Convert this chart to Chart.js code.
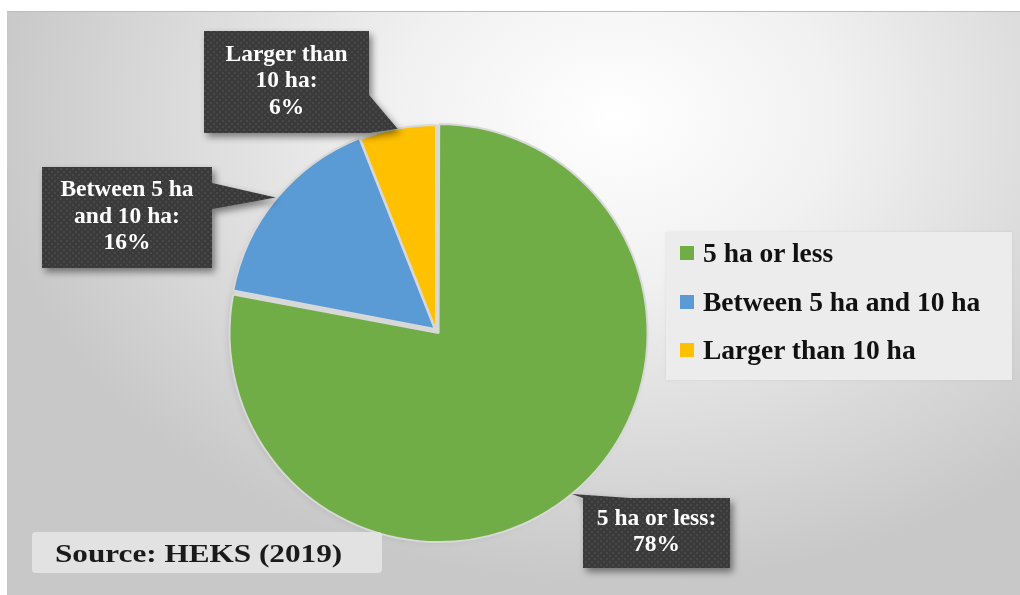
<!DOCTYPE html>
<html>
<head>
<meta charset="utf-8">
<script src="https://cdn.jsdelivr.net/npm/chart.js@4.4.1/dist/chart.umd.min.js"></script>
<style>
  html, body { margin: 0; padding: 0; background: #fff; }
  body { width: 1020px; height: 595px; position: relative; overflow: hidden;
         font-family: "Liberation Serif", "Times New Roman", serif; }
  #frame { position: absolute; left: 7px; top: 11px; width: 1013px; height: 584px;
           border-top: 1px solid #bdbdbd;
           background: radial-gradient(ellipse 62% 80% at 60% 18%, #ffffff 0%, #f1f1f1 35%, #dcdcdc 68%, #c8c8c8 100%); }
  #pie { position: absolute; left: 0; top: 0; }
  #legend { position: absolute; left: 666px; top: 232px; width: 346px; height: 148px;
            background: #ececec; box-shadow: 0 0 3px rgba(0,0,0,0.08); }
  .item { position: absolute; left: 14px; height: 40px; display: flex; align-items: center;
          font-weight: bold; font-size: 27.5px; color: #111; white-space: nowrap; }
  .swatch { width: 14px; height: 14px; margin-right: 9px; }
  #source { position: absolute; left: 32px; top: 532px; width: 350px; height: 41px;
            background: #e2e2e2; border-radius: 4px; }
  #source span { position: absolute; left: 23px; top: 0; line-height: 43px; font-size: 26px;
                 font-weight: bold; color: #1a1a1a; white-space: nowrap;
                 transform: scaleX(1.2); transform-origin: left center; }
</style>
</head>
<body>
<div id="frame"></div>
<canvas id="pie" width="1020" height="595"></canvas>
<div id="legend"></div>
<div id="source"><span>Source: HEKS (2019)</span></div>
<script>
const categories = ['5 ha or less', 'Between 5 ha and 10 ha', 'Larger than 10 ha'];
const shares = [78, 16, 6];
const sliceColors = ['#70ad47', '#5b9bd5', '#ffc000'];

// callout boxes: box rect, text width limit, pointer base points relative to the box
const callouts = [
  { x: 583, y: 498, w: 147, h: 70, wrap: 135, base: [[0, 0], [47, 0]] },
  { x: 42, y: 167, w: 170, h: 101, wrap: 150, base: [[170, 16], [170, 42]] },
  { x: 204, y: 31, w: 165, h: 102, wrap: 135, base: [[165, 64], [165, 102]] }
];

// legend rows
const legend = document.getElementById('legend');
const rowTops = [1, 50, 98];
categories.forEach((c, i) => {
  const row = document.createElement('div');
  row.className = 'item';
  row.style.top = rowTops[i] + 'px';
  row.innerHTML = '<div class="swatch" style="background:' + sliceColors[i] + '"></div>' + c;
  legend.appendChild(row);
});

// dotted texture for the dark callouts
const tile = document.createElement('canvas');
tile.width = 6; tile.height = 6;
const tctx = tile.getContext('2d');
tctx.fillStyle = '#3a3a3a';
tctx.fillRect(0, 0, 6, 6);
tctx.fillStyle = '#484848';
tctx.fillRect(0, 0, 2, 2);
tctx.fillRect(3, 3, 2, 2);

function wrapText(ctx, text, maxW) {
  const words = text.split(' ');
  const lines = [];
  let cur = '';
  words.forEach(w => {
    const test = cur ? cur + ' ' + w : w;
    if (cur && ctx.measureText(test).width > maxW) {
      lines.push(cur);
      cur = w;
    } else {
      cur = test;
    }
  });
  if (cur) lines.push(cur);
  return lines;
}

const calloutPlugin = {
  id: 'callouts',
  beforeDatasetsDraw(chart) {
    // soft shadow under the pie, also fills the gaps between slices
    const arc = chart.getDatasetMeta(0).data[2];
    const p = arc.getProps(['x', 'y', 'outerRadius'], true);
    const ctx = chart.ctx;
    ctx.save();
    ctx.shadowColor = 'rgba(0,0,0,0.2)';
    ctx.shadowBlur = 10;
    ctx.shadowOffsetY = 4;
    ctx.fillStyle = '#d8d8d8';
    ctx.beginPath();
    ctx.arc(p.x, p.y, p.outerRadius, 0, Math.PI * 2);
    ctx.fill();
    ctx.restore();
  },
  afterDatasetsDraw(chart) {
    const ctx = chart.ctx;
    const meta = chart.getDatasetMeta(0);
    const pattern = ctx.createPattern(tile, 'repeat');
    meta.data.forEach((arc, i) => {
      const p = arc.getProps(['x', 'y', 'startAngle', 'endAngle', 'outerRadius'], true);
      const mid = (p.startAngle + p.endAngle) / 2;
      const off = (arc.options.offset || 0) / 4;
      const r = p.outerRadius + off * 2;
      const tipX = p.x + Math.cos(mid) * r;
      const tipY = p.y + Math.sin(mid) * r;
      const b = callouts[i];

      ctx.save();
      ctx.shadowColor = 'rgba(0,0,0,0.45)';
      ctx.shadowBlur = 7;
      ctx.shadowOffsetX = 3;
      ctx.shadowOffsetY = 4;
      ctx.fillStyle = pattern;
      ctx.beginPath();
      ctx.rect(b.x, b.y, b.w, b.h);
      ctx.moveTo(b.x + b.base[0][0], b.y + b.base[0][1]);
      ctx.lineTo(tipX, tipY);
      ctx.lineTo(b.x + b.base[1][0], b.y + b.base[1][1]);
      ctx.closePath();
      ctx.fill('nonzero');
      ctx.restore();

      ctx.save();
      ctx.font = 'bold 23.5px "Liberation Serif", "Times New Roman", serif';
      ctx.fillStyle = '#ffffff';
      ctx.textAlign = 'center';
      ctx.textBaseline = 'middle';
      const lines = wrapText(ctx, categories[i] + ':', b.wrap);
      lines.push(shares[i] + '%');
      const lh = 26.5;
      const y0 = b.y + b.h / 2 - (lines.length - 1) * lh / 2 - 1;
      lines.forEach((t, k) => ctx.fillText(t, b.x + b.w / 2, y0 + k * lh));
      ctx.restore();
    });
  }
};

new Chart(document.getElementById('pie'), {
  type: 'pie',
  data: {
    labels: categories,
    datasets: [{
      data: shares,
      backgroundColor: sliceColors,
      borderColor: '#d8d8d8',
      borderWidth: 2,
      offset: [16, 6, 0],
      hoverOffset: 0,
      radius: 205
    }]
  },
  options: {
    responsive: false,
    animation: false,
    layout: { padding: { left: 102, right: 250, top: 102, bottom: 37 } },
    plugins: {
      legend: { display: false },
      tooltip: { enabled: false }
    }
  },
  plugins: [calloutPlugin]
});
</script>
</body>
</html>
